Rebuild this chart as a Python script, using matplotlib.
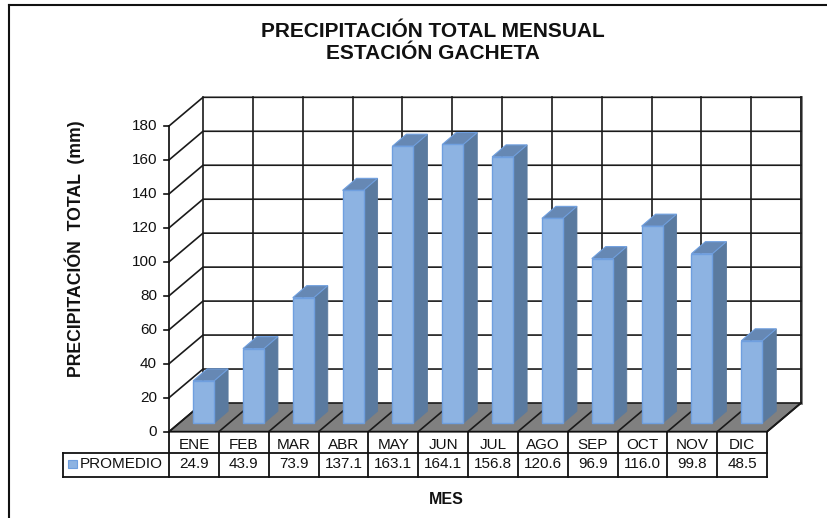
import matplotlib
matplotlib.use('Agg')
import matplotlib.pyplot as plt

meses = ['ENE', 'FEB', 'MAR', 'ABR', 'MAY', 'JUN', 'JUL', 'AGO', 'SEP', 'OCT', 'NOV', 'DIC']
promedio = [24.9, 43.9, 73.9, 137.1, 163.1, 164.1, 156.8, 120.6, 96.9, 116.0, 99.8, 48.5]
ticks = [0, 20, 40, 60, 80, 100, 120, 140, 160, 180]

plt.rcParams['font.family'] = ['Liberation Sans', 'DejaVu Sans']

W, H = 828, 518
# pixel layout of the front plane
X0, Y0 = 169, 431.7
PX_CAT = (767 - 169) / 12
PX_VAL = (431.7 - 126) / 180
n = len(meses)

fig = plt.figure(figsize=(W / 100, H / 100), dpi=100)
ax = fig.add_axes([0, 0, 1, 1])
ax.set_xlim(-X0 / PX_CAT, (W - X0) / PX_CAT)
ax.set_ylim((Y0 - H) / PX_VAL, Y0 / PX_VAL)
ax.axis('off')

# depth of the 3D box in data units
DX = 34 / PX_CAT
DY = 28.7 / PX_VAL
GRID = '#1a1a1a'


def px_x(p):
    return (p - X0) / PX_CAT


def px_y(p):
    return (Y0 - p) / PX_VAL


# floor
ax.fill([0, n, n + DX, DX], [0, 0, DY, DY], color='#808080', lw=0, zorder=1)
ax.plot([0, n, n + DX], [0, 0, DY], color='#111111', lw=1.3, zorder=2)

# back wall and side walls
for t in ticks:
    ax.plot([0, DX, n + DX], [t, t + DY, t + DY], color=GRID, lw=1.2, zorder=1.5)
ax.plot([0, 0], [0, 180], color=GRID, lw=1.3, zorder=2)
for i in range(n + 1):
    ax.plot([i + DX, i + DX], [DY, 180 + DY], color=GRID, lw=1.2, zorder=1.5)
    ax.plot([i, i + DX], [0, DY], color=GRID, lw=1.2, zorder=2)
ax.plot([n + DX, n + DX], [DY, 180 + DY], color='#777777', lw=2.0, zorder=1.4)

# bars
front = 0.285
fw = 21 / PX_CAT
sx = 14 / PX_CAT
sy = 12 / PX_VAL
bx0 = 0.5 + front * DX - fw / 2
by0 = front * DY + 0.2
for i, v in enumerate(promedio):
    x = i + bx0
    z = 3 + i * 0.1
    ax.fill([x + fw, x + fw + sx, x + fw + sx, x + fw],
            [by0, by0 + sy, by0 + sy + v, by0 + v],
            facecolor='#5a7a9f', edgecolor='#5a7a9f', lw=0.6, zorder=z)
    ax.fill([x, x + sx, x + fw + sx, x + fw],
            [by0 + v, by0 + v + sy, by0 + v + sy, by0 + v],
            facecolor='#6688b4', edgecolor='#6f9fdf', lw=0.8, zorder=z)
    ax.bar(x + fw / 2, v, width=fw, bottom=by0, facecolor='#8db3e2',
           edgecolor='#6f9fdf', lw=1.0, zorder=z + 0.01)

# y tick marks and labels
for t in ticks:
    ax.plot([px_x(164), 0], [t, t], color='#111111', lw=1.2, zorder=2)
    ax.text(px_x(157), t, str(t), ha='right', va='center', fontsize=11, color='#111111')

# data table
r0, r1, r2 = 0, px_y(453), px_y(476.5)
left = px_x(63)
tc = '#111111'
ax.plot([left, n], [r1, r1], color=tc, lw=1.3, zorder=2)
ax.plot([left, n], [r2, r2], color=tc, lw=1.3, zorder=2)
ax.plot([left, left], [r1, r2], color=tc, lw=1.3, zorder=2)
for i in range(n + 1):
    ax.plot([i, i], [r0, r2], color=tc, lw=1.3, zorder=2)
for i in range(n):
    ax.text(i + 0.5, (r0 + r1) / 2 - 1.4, meses[i], ha='center', va='center', fontsize=11, color='#111111')
    ax.text(i + 0.5, (r1 + r2) / 2 + 0.3, '%.1f' % promedio[i], ha='center', va='center', fontsize=11, color='#111111')
ax.fill([px_x(68), px_x(77), px_x(77), px_x(68)],
        [px_y(460), px_y(460), px_y(468), px_y(468)],
        facecolor='#8db3e2', edgecolor='#6f9fdf', lw=0.8)
ax.text(px_x(80), (r1 + r2) / 2 + 0.3, 'PROMEDIO', ha='left', va='center', fontsize=11, color='#111111')

# titles
ax.text(px_x(433), px_y(42.5), 'PRECIPITACIÓN TOTAL MENSUAL\nESTACIÓN GACHETA', ha='center',
        va='center', fontsize=15, fontweight='bold', color='#111111', linespacing=1.2)
ax.text(px_x(446.5), px_y(499), 'MES', ha='center', va='center', fontsize=11.5, fontweight='bold', color='#111111')
ax.text(px_x(75), px_y(249), 'PRECIPITACIÓN  TOTAL  (mm)', rotation=90, ha='center', va='center',
        fontsize=12.7, fontweight='bold', color='#111111')

# chart frame (only top and left are in the crop)
ax.plot([px_x(9), px_x(9)], [px_y(518), px_y(5)], color='#111111', lw=1.5)
ax.plot([px_x(9), px_x(828)], [px_y(5), px_y(5)], color='#111111', lw=1.5)

fig.savefig('out.png', dpi=100)
